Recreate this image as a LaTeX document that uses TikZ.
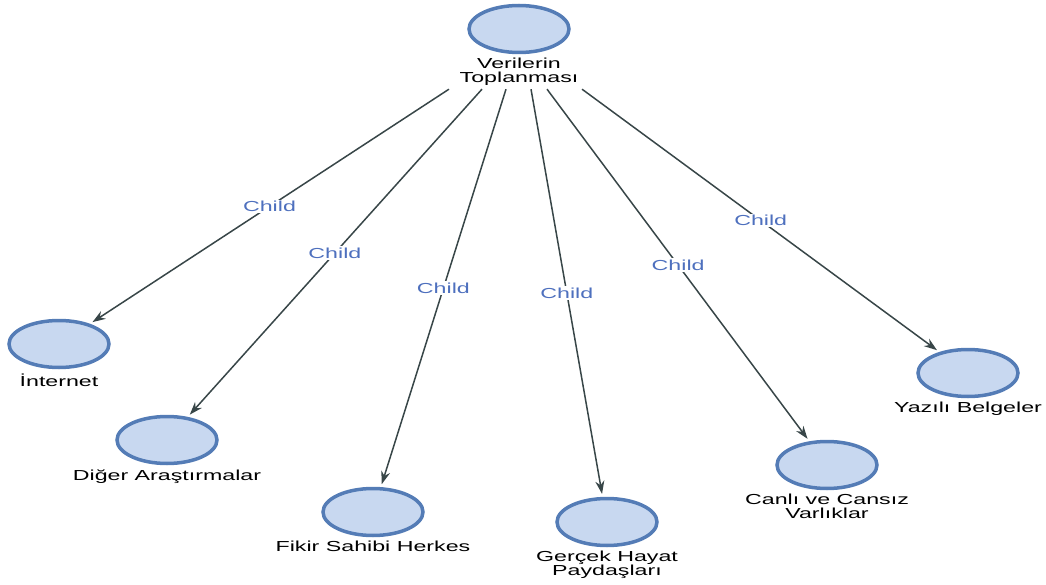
\documentclass[tikz,border=0pt]{standalone}
\usepackage{fontspec}
\newfontfamily\diafont[FakeStretch=1.6]{Liberation Sans}
\usepackage{tikz}
\usetikzlibrary{arrows.meta}
\usetikzlibrary{positioning, shapes.geometric, calc}
\definecolor{bubblefill}{RGB}{200,216,240}
\definecolor{bubbleline}{RGB}{84,124,182}
\definecolor{edgegray}{RGB}{56,70,72}
\definecolor{childblue}{RGB}{78,112,190}

\begin{document}
\begin{tikzpicture}[x=1pt, y=-1pt,
    bubble/.style={ellipse, draw=bubbleline, fill=bubblefill, line width=3.5pt,
        minimum width=100pt, minimum height=47pt, inner sep=0pt},
    caption/.style={align=center, inner sep=0pt,
        font=\diafont\fontsize{14.5pt}{14pt}\selectfont},
    edge/.style={draw=edgegray, line width=1.5pt,
        -{Stealth[length=13pt,width=9pt]}, shorten >=3pt},
    childlbl/.style={midway, fill=white, inner sep=1.5pt, text=childblue,
        font=\diafont\fontsize{14.5pt}{14pt}\selectfont}]
        \useasboundingbox (0,0) rectangle (1046,585);

        \node[bubble] (root) at (519,29) {}; % top of the tree
        \node[caption, below=4pt of root] (rootlbl) {Verilerin\\Toplanması};

        \node[bubble] (internet) at (59,344) {};
        \node[caption, below=4pt of internet] (internetlbl) {İnternet};
        \node[bubble] (diger) at (167,440) {};
        \node[caption, below=4pt of diger] (digerlbl) {Diğer Araştırmalar};
        \node[bubble] (fikir) at (373,512) {};
        \node[caption, below=4pt of fikir] (fikirlbl) {Fikir Sahibi Herkes};
        \node[bubble] (gercek) at (607,522) {};
        \node[caption, below=4pt of gercek] (gerceklbl) {Gerçek Hayat\\Paydaşları};
        \node[bubble] (canli) at (827,465) {};
        \node[caption, below=4pt of canli] (canlilbl) {Canlı ve Cansız\\Varlıklar};
        \node[bubble] (yazili) at (968,373) {};
        \node[caption, below=4pt of yazili] (yazililbl) {Yazılı Belgeler};

        % child links, fanned out under the root caption
        \draw[edge] ($(rootlbl.south)+(-70,3)$) -- (internet) node[childlbl] {Child};
        \draw[edge] ($(rootlbl.south)+(-37,3)$) -- (diger) node[childlbl] {Child};
        \draw[edge] ($(rootlbl.south)+(-13,3)$) -- (fikir) node[childlbl] {Child};
        \draw[edge] ($(rootlbl.south)+(12,3)$) -- (gercek) node[childlbl] {Child};
        \draw[edge] ($(rootlbl.south)+(28,3)$) -- (canli) node[childlbl] {Child};
        \draw[edge] ($(rootlbl.south)+(63,3)$) -- (yazili) node[childlbl] {Child};
\end{tikzpicture}
\end{document}
